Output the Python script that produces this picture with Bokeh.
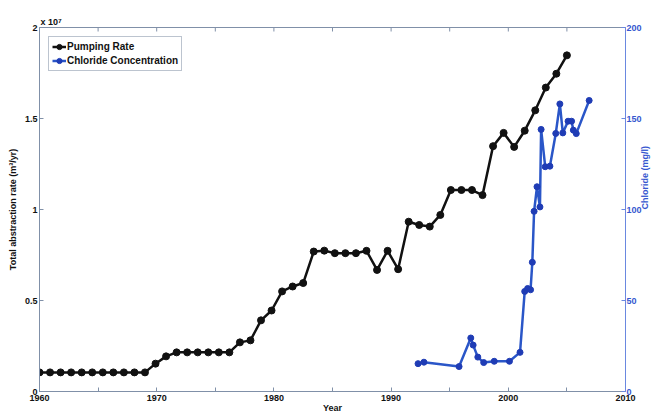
import math
from bokeh.plotting import figure
from bokeh.models import (Range1d, LinearAxis, FixedTicker, CustomJSTickFormatter,
                          Legend, LegendItem, ColumnDataSource)
from bokeh.embed import file_html
from bokeh.resources import INLINE

# ---- data ----
pump_year = [1960.0, 1960.9, 1961.8, 1962.7, 1963.6, 1964.5, 1965.4, 1966.3, 1967.2, 1968.1,
             1969.0, 1969.9, 1970.8, 1971.7, 1972.6, 1973.5, 1974.4, 1975.3, 1976.2, 1977.1,
             1978.0, 1978.9, 1979.8, 1980.7, 1981.6, 1982.5, 1983.4, 1984.3, 1985.2, 1986.1,
             1987.0, 1987.9, 1988.8, 1989.7, 1990.6, 1991.5, 1992.4, 1993.3, 1994.2, 1995.1,
             1996.0, 1996.9, 1997.8, 1998.7, 1999.6, 2000.5, 2001.4, 2002.3, 2003.2, 2004.1,
             2005.0]
pump_rate = [1.05e6, 1.05e6, 1.05e6, 1.05e6, 1.05e6, 1.05e6, 1.05e6, 1.05e6, 1.05e6, 1.05e6,
             1.05e6, 1.53e6, 1.93e6, 2.15e6, 2.15e6, 2.15e6, 2.15e6, 2.15e6, 2.15e6, 2.70e6,
             2.81e6, 3.91e6, 4.45e6, 5.50e6, 5.77e6, 5.96e6, 7.69e6, 7.74e6, 7.60e6, 7.60e6,
             7.60e6, 7.73e6, 6.68e6, 7.73e6, 6.72e6, 9.33e6, 9.15e6, 9.06e6, 9.70e6, 1.107e7,
             1.107e7, 1.107e7, 1.079e7, 1.348e7, 1.421e7, 1.344e7, 1.433e7, 1.545e7, 1.670e7, 1.746e7,
             1.847e7]

cl_year = [1992.3, 1992.8, 1995.8, 1996.8, 1997.0, 1997.4, 1997.9, 1998.8, 2000.1, 2001.0,
           2001.4, 2001.65, 2001.9, 2002.05, 2002.2, 2002.45, 2002.7, 2002.8, 2003.15, 2003.55,
           2004.05, 2004.4, 2004.65, 2005.1, 2005.4, 2005.55, 2005.8, 2006.9]
cl_conc = [15.3, 16.1, 13.7, 29.4, 25.5, 18.9, 15.9, 16.6, 16.6, 21.5,
           55.0, 56.6, 55.9, 71.0, 99.0, 112.5, 101.4, 144.0, 123.5, 123.8,
           141.8, 158.0, 142.1, 148.5, 148.5, 143.6, 141.7, 159.9]

x_major = [1960, 1970, 1980, 1990, 2000, 2010]
x_minor = [1965, 1975, 1985, 1995, 2005]
y_left_ticks = [0, 5e6, 1e7, 1.5e7, 2e7]
y_right_ticks = [0, 50, 100, 150, 200]

FONT = "Liberation Sans"
AX_GREY = "#8090a8"
BLUE_AX = "#6a88e0"
BLUE_TXT = "#3657cf"
BLACK = "#111111"
BLUE_LINE = "#2a56c8"
BLUE_MK = "#1f3cb5"

Y_MAX = 2e7
p = figure(width=657, height=415, output_backend="svg", toolbar_location=None,
           x_range=Range1d(1960, 2010), y_range=Range1d(0, Y_MAX),
           min_border_left=39, min_border_top=27, min_border_right=0, min_border_bottom=0,
           title="x 10\u2077")
p.title.align = "left"
p.title.offset = 1
p.title.standoff = 2
p.title.text_font = FONT
p.title.text_font_style = "bold"
p.title.text_font_size = "9px"
p.title.text_color = BLACK

p.extra_y_ranges = {"cl": Range1d(0, 200)}
p.xgrid.visible = False
p.ygrid.visible = False
p.outline_line_color = AX_GREY
p.outline_line_width = 1
p.background_fill_color = "white"

def style_common(ax, color, label_color):
    ax.axis_line_color = color
    ax.major_tick_line_color = color
    ax.minor_tick_line_color = color
    ax.major_tick_in = 4
    ax.major_tick_out = 0
    ax.minor_tick_in = 4
    ax.minor_tick_out = 0
    ax.major_label_text_font = FONT
    ax.major_label_text_font_style = "bold"
    ax.major_label_text_font_size = "9px"
    ax.major_label_text_color = label_color
    ax.axis_label_text_font = FONT
    ax.axis_label_text_font_style = "bold"
    ax.axis_label_text_font_size = "9px"
    ax.axis_label_text_color = label_color

# bottom axis
xb = p.xaxis[0]
xb.ticker = FixedTicker(ticks=x_major, minor_ticks=x_minor)
style_common(xb, AX_GREY, BLACK)
xb.axis_label = "Year"
xb.major_label_standoff = 3
xb.axis_label_standoff = -1

# left axis
yl = p.yaxis[0]
yl.ticker = FixedTicker(ticks=y_left_ticks)
yl.formatter = CustomJSTickFormatter(code="return String(tick/1e7);")
style_common(yl, AX_GREY, BLACK)
yl.minor_tick_line_color = None
yl.axis_label = "Total abstraction rate (m\u00b3/yr)"
yl.major_label_standoff = 2
yl.axis_label_standoff = 4

# right axis
yr = LinearAxis(y_range_name="cl", ticker=FixedTicker(ticks=y_right_ticks))
style_common(yr, BLUE_AX, BLUE_TXT)
yr.minor_tick_line_color = None
yr.axis_label = "Chloride (mg/l)"
yr.axis_label_orientation = math.pi / 2
yr.major_label_standoff = 1
yr.axis_label_standoff = 0
p.add_layout(yr, "right")

# top-edge ticks (MATLAB box ticks, inward)
top_ticks = x_major + x_minor
tick_len = Y_MAX * 0.011
p.segment(x0=top_ticks, y0=[Y_MAX] * len(top_ticks), x1=top_ticks,
          y1=[Y_MAX - tick_len] * len(top_ticks), line_color=AX_GREY, line_width=1)

# data
src_p = ColumnDataSource(dict(x=pump_year, y=pump_rate))
src_c = ColumnDataSource(dict(x=cl_year, y=cl_conc))
lp = p.line("x", "y", source=src_p, line_color=BLACK, line_width=2.5)
sp = p.scatter("x", "y", source=src_p, marker="circle", size=7, fill_color=BLACK, line_color=BLACK)
lc = p.line("x", "y", source=src_c, y_range_name="cl", line_color=BLUE_LINE, line_width=2.5)
sc = p.scatter("x", "y", source=src_c, y_range_name="cl", marker="circle", size=6,
               fill_color=BLUE_MK, line_color=BLUE_MK)

legend = Legend(items=[LegendItem(label="Pumping Rate", renderers=[lp, sp]),
                       LegendItem(label="Chloride Concentration", renderers=[lc, sc])],
                location="top_left")
legend.margin = 9
legend.padding = 3
legend.spacing = 1
legend.label_height = 13
legend.glyph_height = 13
legend.glyph_width = 14
legend.label_standoff = 1
legend.label_text_font = FONT
legend.label_text_font_style = "bold"
legend.label_text_font_size = "10px"
legend.label_text_color = BLACK
legend.border_line_color = "#7a8aa0"
legend.border_line_width = 1
legend.background_fill_color = "white"
legend.background_fill_alpha = 1.0
p.add_layout(legend, "center")

open("out.html", "w").write(file_html(p, INLINE))
